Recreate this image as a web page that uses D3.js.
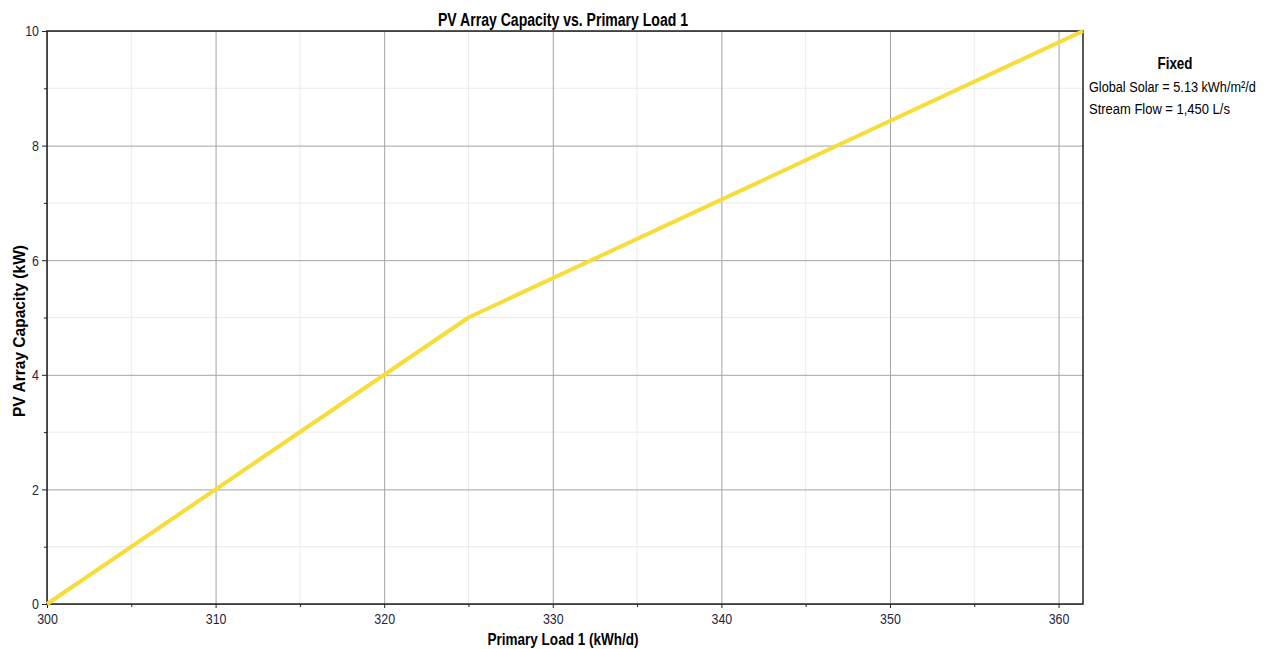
<!DOCTYPE html>
<html>
<head>
<meta charset="utf-8">
<script src="https://cdn.jsdelivr.net/npm/d3@7"></script>
<style>
  body { margin: 0; background: #fff; }
  text { font-family: "Liberation Sans Narrow", "Arial Narrow", "Liberation Sans", Arial, sans-serif; }
  .tick text { fill: #1e2642; font-size: 15.5px; }
</style>
</head>
<body>
<div id="chart"></div>
<script>
// Values
const loadValues = [300, 325, 361.45];    // Primary Load 1 (kWh/d)
const pvCapacity = [0, 5, 10];            // PV Array Capacity (kW)
const xTicks = [300, 310, 320, 330, 340, 350, 360];
const yTicks = [0, 2, 4, 6, 8, 10];
const fixedLines = ["Global Solar = 5.13 kWh/m²/d", "Stream Flow = 1,450 L/s"];
const fixedWidths = [167, 141];

const margin = {top: 31, right: 188, bottom: 45, left: 47},
  width = 1271 - margin.left - margin.right,
  height = 649 - margin.top - margin.bottom;

// no narrow font here, so squeeze the text horizontally
function squeeze(sel, k) {
  sel.each(function() {
    const len = this.getComputedTextLength();
    d3.select(this)
      .attr("textLength", len * k)
      .attr("lengthAdjust", "spacingAndGlyphs");
  });
}

const svg = d3.select("#chart")
  .append("svg")
  .attr("width", 1271)
  .attr("height", 649);

const g = svg.append("g")
  .attr("transform", `translate(${margin.left},${margin.top})`);

const x = d3.scaleLinear()
  .domain([300, loadValues[loadValues.length - 1]])
  .range([0, width]);

const y = d3.scaleLinear()
  .domain([0, 10])
  .range([height, 0]);

// minor gridlines (halfway between labelled ticks)
const xMinor = d3.range(305, 361, 10);
const yMinor = d3.range(1, 10, 2);

g.append("g")
  .selectAll("line")
  .data(xMinor)
  .join("line")
  .attr("x1", d => x(d)).attr("x2", d => x(d))
  .attr("y1", 0).attr("y2", height)
  .attr("stroke", "#ebebeb");

g.append("g")
  .selectAll("line")
  .data(yMinor)
  .join("line")
  .attr("x1", 0).attr("x2", width)
  .attr("y1", d => y(d)).attr("y2", d => y(d))
  .attr("stroke", "#ebebeb");

// major gridlines
g.append("g")
  .attr("transform", "translate(0," + height + ")")
  .call(d3.axisBottom(x).tickValues(xTicks).tickSize(-height).tickFormat(""))
  .call(a => a.select(".domain").remove())
  .selectAll("line").attr("stroke", "#a3a3a3");

g.append("g")
  .call(d3.axisLeft(y).tickValues(yTicks).tickSize(-width).tickFormat(""))
  .call(a => a.select(".domain").remove())
  .selectAll("line").attr("stroke", "#a3a3a3");

// plot frame
g.append("rect")
  .attr("width", width)
  .attr("height", height)
  .attr("fill", "none")
  .attr("stroke", "#222")
  .attr("stroke-width", 1.5);

// minor tick marks
g.append("g")
  .attr("transform", "translate(0," + height + ")")
  .call(d3.axisBottom(x).tickValues(xMinor).tickSize(3).tickFormat(""))
  .call(a => a.select(".domain").remove())
  .selectAll("line").attr("stroke", "#222");

g.append("g")
  .call(d3.axisLeft(y).tickValues(yMinor).tickSize(3).tickFormat(""))
  .call(a => a.select(".domain").remove())
  .selectAll("line").attr("stroke", "#222");

// axes with labels
g.append("g")
  .attr("transform", "translate(0," + height + ")")
  .call(d3.axisBottom(x).tickValues(xTicks).tickSize(4).tickPadding(5))
  .call(a => a.select(".domain").remove())
  .call(a => a.selectAll("line").attr("stroke", "#222"))
  .call(a => a.selectAll("text").call(squeeze, 0.8));

g.append("g")
  .call(d3.axisLeft(y).tickValues(yTicks).tickSize(5).tickPadding(3))
  .call(a => a.select(".domain").remove())
  .call(a => a.selectAll("line").attr("stroke", "#222"))
  .call(a => a.selectAll("text").call(squeeze, 0.8));

// the line
const line = d3.line()
  .x((d, i) => x(loadValues[i]))
  .y(d => y(d));

g.append("path")
  .datum(pvCapacity)
  .attr("fill", "none")
  .attr("stroke", "#f7dc3a")
  .attr("stroke-width", 4)
  .attr("stroke-linejoin", "round")
  .attr("d", line);

// title
svg.append("text")
  .attr("x", 563)
  .attr("y", 26)
  .attr("text-anchor", "middle")
  .style("font-weight", "bold")
  .style("font-size", "18px")
  .attr("textLength", 250)
  .attr("lengthAdjust", "spacingAndGlyphs")
  .text("PV Array Capacity vs. Primary Load 1");

// axis titles
svg.append("text")
  .attr("x", 563)
  .attr("y", 645)
  .attr("text-anchor", "middle")
  .style("font-weight", "bold")
  .style("font-size", "17px")
  .attr("textLength", 151)
  .attr("lengthAdjust", "spacingAndGlyphs")
  .text("Primary Load 1 (kWh/d)");

svg.append("text")
  .attr("transform", "translate(25,331) rotate(-90)")
  .attr("text-anchor", "middle")
  .style("font-weight", "bold")
  .style("font-size", "17px")
  .attr("textLength", 172)
  .attr("lengthAdjust", "spacingAndGlyphs")
  .text("PV Array Capacity (kW)");

// fixed values box
svg.append("text")
  .attr("x", 1175)
  .attr("y", 69)
  .attr("text-anchor", "middle")
  .style("font-weight", "bold")
  .style("font-size", "17px")
  .attr("textLength", 35)
  .attr("lengthAdjust", "spacingAndGlyphs")
  .text("Fixed");

// squeeze these with a scale so their box stays inside the page
fixedLines.forEach((t, i) => {
  const grp = svg.append("g");
  const txt = grp.append("text")
    .attr("y", 92 + i * 22)
    .style("font-size", "15.5px")
    .text(t);
  const k = fixedWidths[i] / txt.node().getComputedTextLength();
  grp.attr("transform", `translate(1089,0) scale(${k},1)`);
});
</script>
</body>
</html>
